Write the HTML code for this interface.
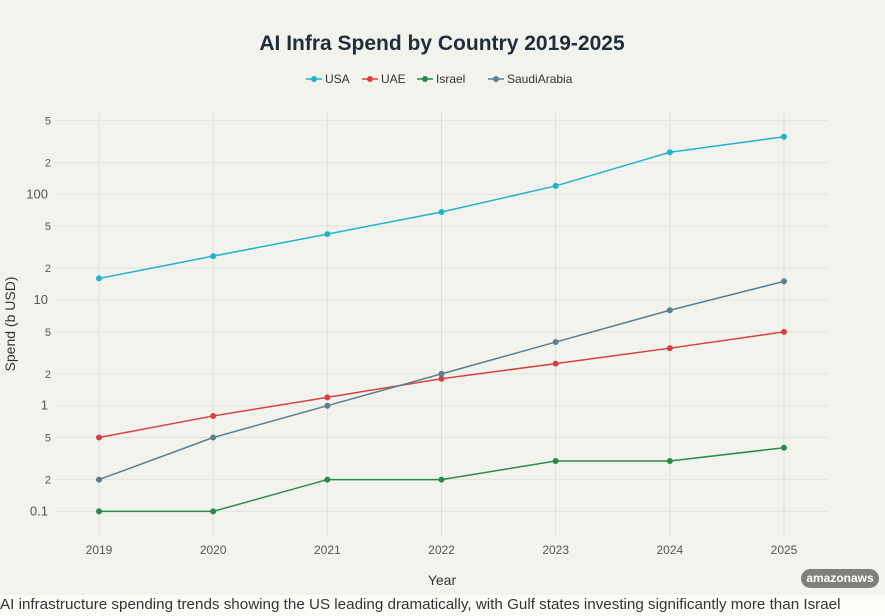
<!DOCTYPE html>
<html><head><meta charset="utf-8"><style>
body{margin:0;width:885px;height:616px;overflow:hidden;background:#f3f3ee;font-family:"Liberation Sans",sans-serif}
#cap{position:absolute;left:0;top:595px;width:885px;height:21px;background:#fbfbf8;font-size:15.2px;color:#333;line-height:20px;white-space:nowrap}
#badge{position:absolute;left:801px;top:569px;width:78px;height:19px;border-radius:10px;background:#7f7f7b;color:#fff;font-size:12px;font-weight:bold;text-align:center;line-height:19px}
</style></head><body>
<svg id="chart" width="885" height="595" style="position:absolute;left:0;top:0;font-family:'Liberation Sans',sans-serif"></svg>
<div id="badge">amazonaws</div>
<div id="cap">AI infrastructure spending trends showing the US leading dramatically, with Gulf states investing significantly more than Israel</div>
<script>
const years=[2019,2020,2021,2022,2023,2024,2025];
const usa=[16,26,42,68,120,250,350];
const uae=[0.5,0.8,1.2,1.8,2.5,3.5,5];
const israel=[0.1,0.1,0.2,0.2,0.3,0.3,0.4];
const saudi=[0.2,0.5,1,2,4,8,15];
const yTickVals=[0.1,0.2,0.5,1,2,5,10,20,50,100,200,500];
const yTickLabels=["0.1","2","5","1","2","5","10","2","5","100","2","5"];
const seriesNames=["USA","UAE","Israel","SaudiArabia"];
const seriesColors=["#1fb3cc","#d94040","#2a8a4e","#5a7f8f"];
const NS="http://www.w3.org/2000/svg";
const svg=document.getElementById('chart');
const L=55,R=828,T=112,B=537;
const x=v=>99+(v-2019)*(784-99)/6;
const y=v=>300-105.7*Math.log10(v/10);
function mk(t,a){const e=document.createElementNS(NS,t);for(const k in a)e.setAttribute(k,a[k]);svg.appendChild(e);return e;}
let e=mk('text',{x:442,y:50,'text-anchor':'middle','font-size':21,'font-weight':'bold',fill:'#1f2d3a'});e.textContent='AI Infra Spend by Country 2019-2025';

yTickVals.forEach((v,i)=>{const g=mk('line',{x1:L,x2:R,y1:y(v),y2:y(v),stroke:'#e2e2dc','stroke-width':1});

const t=mk('text',{x:i==3||i==6||i==9||i==0?48:51,y:y(v)+4,'text-anchor':'end','font-size':(i%3==0)?13:11,fill:'#555'});t.textContent=yTickLabels[i];
});
years.forEach(v=>{const g=mk('line',{x1:x(v),x2:x(v),y1:T,y2:B,stroke:'#e0e0da','stroke-width':1});

const t=mk('text',{x:x(v),y:554,'text-anchor':'middle','font-size':12,fill:'#555'});t.textContent=v;
});
e=mk('text',{x:442,y:585,'text-anchor':'middle','font-size':14,fill:'#333'});e.textContent='Year';

e=mk('text',{x:15,y:324,'text-anchor':'middle','font-size':14,fill:'#333',transform:'rotate(-90 15 324)'});e.textContent='Spend (b USD)';

[usa,uae,israel,saudi].forEach((d,s)=>{
const p=mk('polyline',{points:d.map((v,i)=>x(years[i])+','+y(v)).join(' '),fill:'none',stroke:seriesColors[s],'stroke-width':1.5});

d.forEach((v,i)=>{const c=mk('circle',{cx:x(years[i]),cy:y(v),r:3,fill:seriesColors[s]});
});});
const lx=[306,362,417,488];
seriesNames.forEach((n,i)=>{
const l=mk('line',{x1:lx[i],x2:lx[i]+16,y1:79,y2:79,stroke:seriesColors[i],'stroke-width':1.5});

const c=mk('circle',{cx:lx[i]+8,cy:79,r:3,fill:seriesColors[i]});

const t=mk('text',{x:lx[i]+19,y:83,'font-size':12,fill:'#333'});t.textContent=n;
});
</script>
</body></html>
